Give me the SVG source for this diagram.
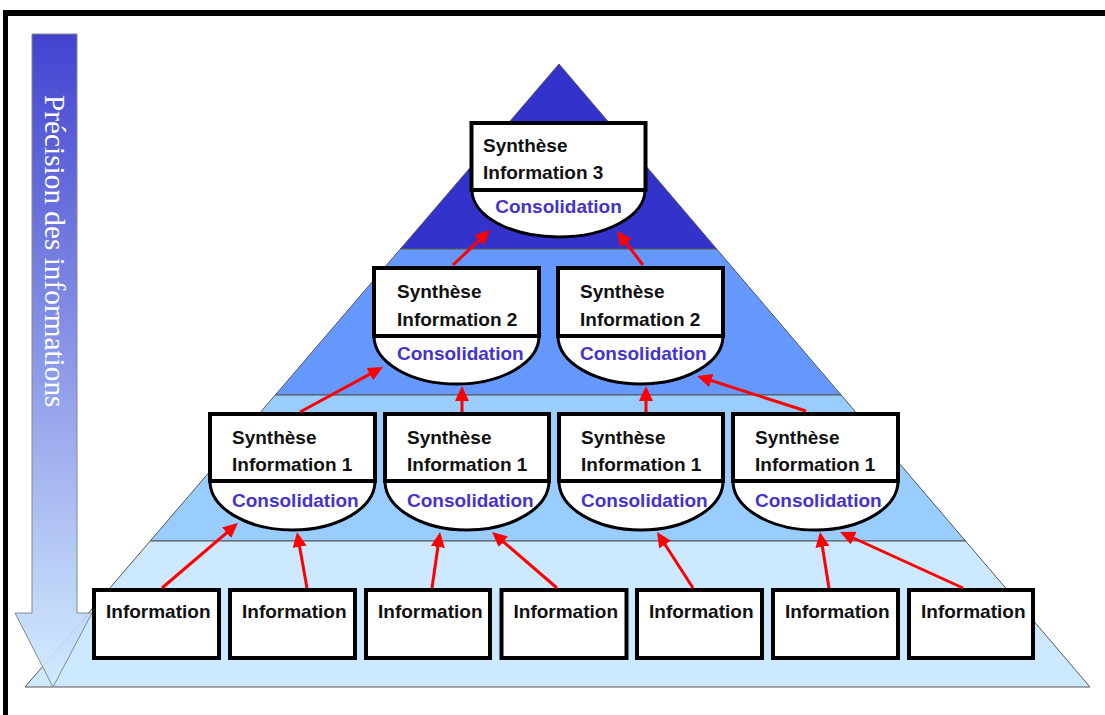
<svg xmlns="http://www.w3.org/2000/svg" width="1105" height="715" viewBox="0 0 1105 715">
<style>
.band{stroke:#555;stroke-width:1}
.box{fill:#fff;stroke:#000;stroke-width:4}
.cons{fill:#fff;stroke:#000;stroke-width:3}
.t{font-family:"Liberation Sans",Arial,sans-serif;font-weight:bold;font-size:19px;fill:#111}
.c{font-family:"Liberation Sans",Arial,sans-serif;font-weight:bold;font-size:19px;fill:#4433cc}
.arr{stroke:#ff0000;stroke-width:3;fill:none;marker-end:url(#ah)}
</style>
<defs>
<linearGradient id="g" x1="0" y1="34" x2="0" y2="687" gradientUnits="userSpaceOnUse">
<stop offset="0" stop-color="#3333cc"/>
<stop offset="1" stop-color="#d0ecff"/>
</linearGradient>
<marker id="ah" markerUnits="userSpaceOnUse" markerWidth="16" markerHeight="16" refX="10" refY="7" orient="auto">
<path d="M0,0 L15,7 L0,14 Z" fill="#ff0000"/>
</marker>
</defs>
<rect width="1105" height="715" fill="#fff"/>
<rect x="3" y="10" width="1102" height="6" fill="#000"/>
<rect x="3" y="10" width="5" height="705" fill="#000"/>
<g id="pyramid">
<polygon class="band" points="559,64 716.7,249 400.4,249" fill="#3333cc"/>
<polygon class="band" points="400.4,249 716.7,249 841.1,395 275.3,395" fill="#6699ff"/>
<polygon class="band" points="275.3,395 841.1,395 965.5,541 150.2,541" fill="#99ccff"/>
<polygon class="band" points="150.2,541 965.5,541 1090,687 25,687" fill="#cce9ff"/>
</g>
<g id="axis">
<path d="M32,34 H77 V613 H92 L53,687 L15,613 H32 Z" fill="url(#g)" fill-opacity="0.92" stroke="#888" stroke-width="1"/>
<text transform="translate(45,95) rotate(90)" font-family="'Liberation Serif','Times New Roman',serif" font-size="29.3" fill="#fff">Précision des informations</text>
</g>
<g id="n3">
<path class="cons" d="M472,190 A86.5,47 0 0 0 645,190 Z"/>
<rect class="box" x="471.5" y="123" width="174" height="67"/>
<text class="t" x="483" y="152">Synthèse</text>
<text class="t" x="483" y="179">Information 3</text>
<text class="c" x="558.5" y="213" text-anchor="middle">Consolidation</text>
</g>
<g id="n2a">
<path class="cons" d="M374,336 A82.5,48 0 0 0 539,336 Z"/>
<rect class="box" x="374" y="268" width="165" height="68"/>
<text class="t" x="397" y="298">Synthèse</text>
<text class="t" x="397" y="326">Information 2</text>
<text class="c" x="397" y="360">Consolidation</text>
</g>
<g id="n2b">
<path class="cons" d="M558,336 A82.5,48 0 0 0 723,336 Z"/>
<rect class="box" x="558" y="268" width="165" height="68"/>
<text class="t" x="580" y="298">Synthèse</text>
<text class="t" x="580" y="326">Information 2</text>
<text class="c" x="580" y="360">Consolidation</text>
</g>
<g id="n1a">
<path class="cons" d="M210,481 A82.5,49 0 0 0 375,481 Z"/>
<rect class="box" x="210" y="414" width="165" height="67"/>
<text class="t" x="232" y="444">Synthèse</text>
<text class="t" x="232" y="471">Information 1</text>
<text class="c" x="232" y="507">Consolidation</text>
</g>
<g id="n1b">
<path class="cons" d="M385,481 A82,49 0 0 0 549,481 Z"/>
<rect class="box" x="385" y="414" width="164" height="67"/>
<text class="t" x="407" y="444">Synthèse</text>
<text class="t" x="407" y="471">Information 1</text>
<text class="c" x="407" y="507">Consolidation</text>
</g>
<g id="n1c">
<path class="cons" d="M559,481 A82,49 0 0 0 723,481 Z"/>
<rect class="box" x="559" y="414" width="164" height="67"/>
<text class="t" x="581" y="444">Synthèse</text>
<text class="t" x="581" y="471">Information 1</text>
<text class="c" x="581" y="507">Consolidation</text>
</g>
<g id="n1d">
<path class="cons" d="M733,481 A82.5,49 0 0 0 898,481 Z"/>
<rect class="box" x="733" y="414" width="165" height="67"/>
<text class="t" x="755" y="444">Synthèse</text>
<text class="t" x="755" y="471">Information 1</text>
<text class="c" x="755" y="507">Consolidation</text>
</g>
<g id="i1"><rect class="box" x="94" y="590" width="125" height="68"/><text class="t" x="106" y="618">Information</text></g>
<g id="i2"><rect class="box" x="230" y="590" width="125" height="68"/><text class="t" x="242" y="618">Information</text></g>
<g id="i3"><rect class="box" x="366" y="590" width="124" height="68"/><text class="t" x="378" y="618">Information</text></g>
<g id="i4"><rect class="box" x="501.5" y="590" width="125" height="68"/><text class="t" x="513.5" y="618">Information</text></g>
<g id="i5"><rect class="box" x="637" y="590" width="125" height="68"/><text class="t" x="649" y="618">Information</text></g>
<g id="i6"><rect class="box" x="773" y="590" width="125" height="68"/><text class="t" x="785" y="618">Information</text></g>
<g id="i7"><rect class="box" x="909" y="590" width="124" height="68"/><text class="t" x="921" y="618">Information</text></g>
<g id="connectors">
<line class="arr" x1="453" y1="265" x2="486.4" y2="233.4"/>
<line class="arr" x1="643" y1="265" x2="620" y2="235"/>
<line class="arr" x1="300" y1="412" x2="378.6" y2="369.4"/>
<line class="arr" x1="462" y1="412" x2="462" y2="391"/>
<line class="arr" x1="646" y1="412" x2="646" y2="391"/>
<line class="arr" x1="806" y1="411" x2="701.8" y2="377.5"/>
<line class="arr" x1="162" y1="588" x2="234.2" y2="526.3"/>
<line class="arr" x1="307" y1="588" x2="297.9" y2="536.9"/>
<line class="arr" x1="432" y1="588" x2="439.3" y2="537"/>
<line class="arr" x1="557" y1="588" x2="495.8" y2="535.3"/>
<line class="arr" x1="693" y1="588" x2="659.7" y2="536.2"/>
<line class="arr" x1="829" y1="588" x2="820.8" y2="536.9"/>
<line class="arr" x1="963" y1="588" x2="844.6" y2="534"/>
</g>
</svg>
